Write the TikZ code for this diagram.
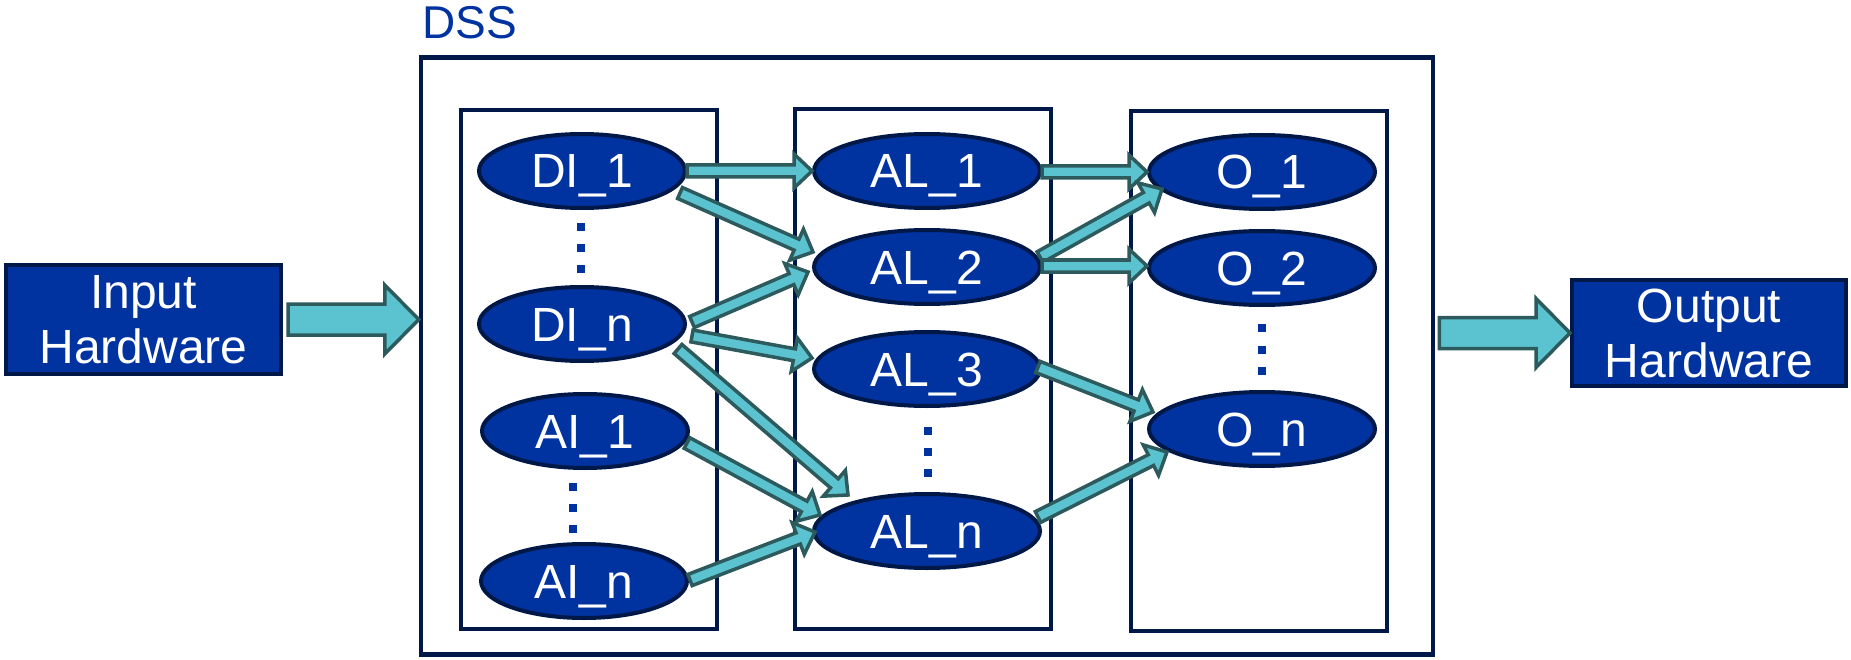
\documentclass[tikz,border=0pt]{standalone}
\usepackage{fontspec}
\setmainfont{Liberation Sans}
\usetikzlibrary{calc,shapes.geometric}
\definecolor{nodeblue}{HTML}{0033A0}
\definecolor{navy}{HTML}{001848}
\definecolor{arrfill}{HTML}{5BC3CF}
\definecolor{arrline}{HTML}{2D5A5D}
\tikzset{
  oval/.style={ellipse, draw=navy, fill=nodeblue, line width=4pt, text=white,
    font=\fontsize{48}{52}\selectfont, inner sep=0pt, minimum height=74pt,
    text height=34pt, text depth=0pt},
  dinode/.style={oval, minimum width=206pt},
  alnode/.style={oval, minimum width=226pt},
  hwbox/.style={rectangle, draw=navy, fill=nodeblue, line width=4pt, text=white,
    font=\fontsize{48}{55}\selectfont, align=center, inner sep=0pt},
  container/.style={rectangle, draw=navy, line width=4.5pt, inner sep=0pt},
  dotsq/.style={rectangle, fill=nodeblue, minimum size=8pt, inner sep=0pt},
  arrowstyle/.style={draw=arrline, fill=arrfill, line width=3.5pt, line join=miter},
}
% #1 start, #2 end, #3 shaft half width, #4 head half width, #5 head length
\newcommand\blockarrow[5]{%
  \draw[arrowstyle] let \p1=(#1), \p2=(#2),
    \n1={atan2(\y2-\y1,\x2-\x1)},
    \n2={veclen(\x2-\x1,\y2-\y1)},
    \n3={veclen(\x2-\x1,\y2-\y1)-#5} in
    ([shift={(\p1)},rotate=\n1]0pt,#3pt) --
    ([shift={(\p1)},rotate=\n1]{\n3*1pt},#3pt) --
    ([shift={(\p1)},rotate=\n1]{\n3*1pt},#4pt) --
    ([shift={(\p1)},rotate=\n1]{\n2*1pt},0pt) --
    ([shift={(\p1)},rotate=\n1]{\n3*1pt},-#4pt) --
    ([shift={(\p1)},rotate=\n1]{\n3*1pt},-#3pt) --
    ([shift={(\p1)},rotate=\n1]0pt,-#3pt) -- cycle;}
% small arrow between offsets from two nodes
\newcommand\linkarrow[4]{%
  \blockarrow{$(#1)+(#2)$}{$(#3)+(#4)$}{6}{17}{18}}
\begin{document}
\begin{tikzpicture}[x=1pt,y=-1pt]
\useasboundingbox (0,0) rectangle (1851,660);

% DSS label
\node[anchor=base west, text=nodeblue, font=\fontsize{46}{50}\selectfont, inner sep=0pt] (dsslabel) at (422,39) {DSS};

% containers
\node[container, minimum width=1012pt, minimum height=597pt] (dss) at (927,356) {};
\node[container, minimum width=256pt, minimum height=519pt] (colA) at (589,369.5) {};
\node[container, minimum width=256pt, minimum height=520pt] (colB) at (923,369) {};
\node[container, minimum width=256pt, minimum height=520pt] (colC) at (1259,371) {};

% hardware boxes
\node[hwbox, minimum width=275pt, minimum height=109pt] (inhw) at (143.5,319.5) {Input\\Hardware};
\node[hwbox, minimum width=274pt, minimum height=106pt] (outhw) at (1709,333) {Output\\Hardware};

% ellipses
\node[dinode] (DI1) at (582,171) {DI\_1};
\node[dinode] (DIn) at (582,324) {DI\_n};
\node[dinode] (AI1) at (585,431) {AI\_1};
\node[dinode] (AIn) at (584,581) {AI\_n};
\node[alnode] (AL1) at (927,171) {AL\_1};
\node[alnode] (AL2) at (927,267) {AL\_2};
\node[alnode] (AL3) at (927,369) {AL\_3};
\node[alnode] (ALn) at (927,531) {AL\_n};
\node[alnode] (O1) at (1262,172) {O\_1};
\node[alnode] (O2) at (1262,268) {O\_2};
\node[alnode] (On) at (1262,429) {O\_n};

% vertical dots
\foreach \y [count=\i] in {227,248,269} \node[dotsq] (dA\i) at (581,\y) {};
\foreach \y [count=\i] in {487,508,529} \node[dotsq] (dB\i) at (573,\y) {};
\foreach \y [count=\i] in {431,452,473} \node[dotsq] (dC\i) at (928,\y) {};
\foreach \y [count=\i] in {328,350,371} \node[dotsq] (dD\i) at (1262,\y) {};

% big arrows
\coordinate (inTail) at ($(inhw.east)+(5,0)$);
\coordinate (inTip) at (dss.west |- inhw.east);
\blockarrow{inTail}{inTip}{15.5}{34.5}{34}
\coordinate (outTail) at ($(dss.east |- outhw.west)+(4,0)$);
\blockarrow{outTail}{outhw.west}{15.5}{34.5}{34}

% small arrows
\linkarrow{DI1}{105,0}{AL1}{-115,0}
\linkarrow{DI1}{98,22}{AL2}{-114,-15}
\linkarrow{DIn}{110,-2}{AL2}{-119,5}
\linkarrow{DIn}{110,12}{AL3}{-115,-11}
\linkarrow{DIn}{96,25}{ALn}{-79,-36}
\linkarrow{AI1}{102,12}{ALn}{-107,-16}
\linkarrow{AIn}{106,-1}{ALn}{-112,1}
\linkarrow{AL1}{115,1}{O1}{-115,0}
\linkarrow{AL2}{113,-10}{O1}{-100,17}
\linkarrow{AL2}{115,-1}{O2}{-115,-2}
\linkarrow{AL3}{111,-2}{On}{-109,-17}
\linkarrow{ALn}{111,-14}{On}{-95,23}
\end{tikzpicture}
\end{document}
